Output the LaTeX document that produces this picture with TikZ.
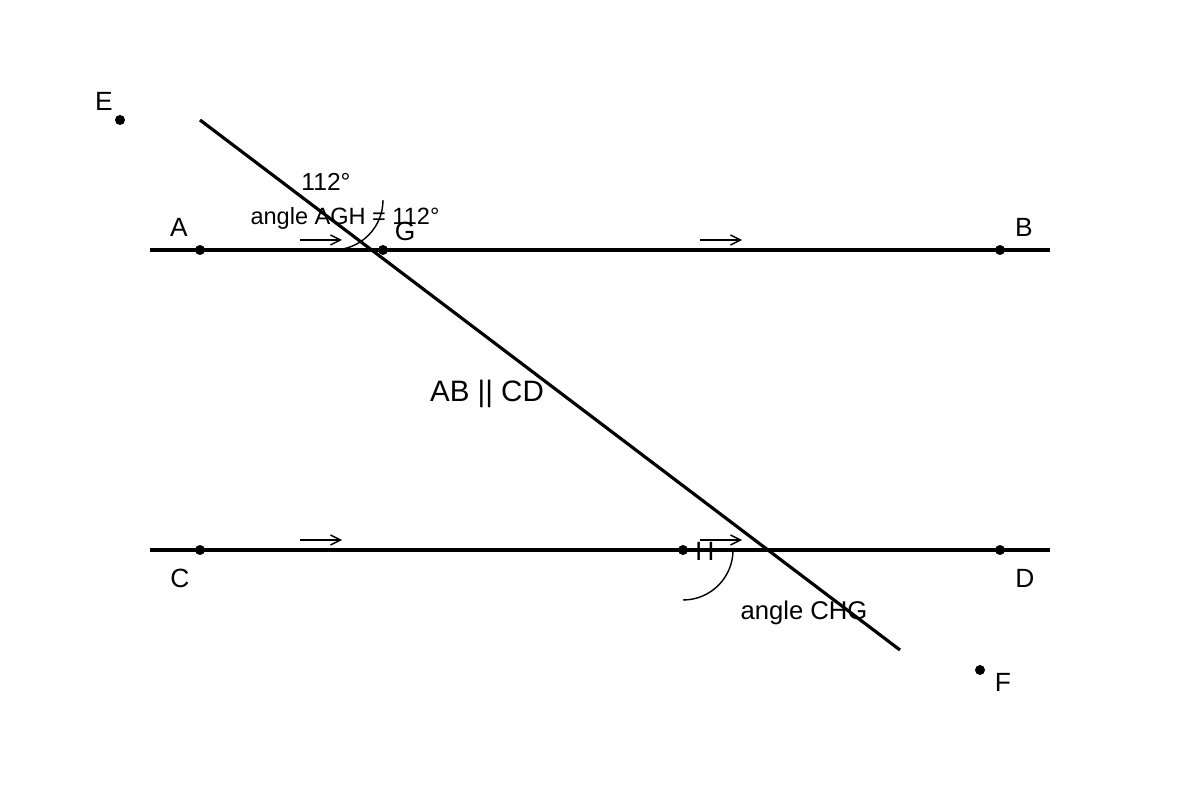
\documentclass[tikz,border=0pt]{standalone}
\usepackage{fontspec}
\setmainfont{Liberation Sans}
\usetikzlibrary{arrows.meta}
\begin{document}
\begin{tikzpicture}[x=0.02cm, y=-0.02cm,
    pt/.style={circle, fill, inner sep=0pt, minimum size=0.2cm},
    lbl/.style={anchor=base, inner sep=0pt, font=\fontsize{15}{18}\selectfont},
    ln/.style={line width=1.8pt},
    dirarrow/.style={-{Straight Barb[length=0.2cm, width=0.2cm]}, line width=0.8pt},
    anglearc/.style={line width=0.8pt}]
    \useasboundingbox (0,0) rectangle (1200,800);
    % the two parallel lines and the transversal
    \coordinate (AB1) at (150,250);
    \coordinate (AB2) at (1050,250);
    \coordinate (CD1) at (150,550);
    \coordinate (CD2) at (1050,550);
    \coordinate (T1) at (200,120);
    \coordinate (T2) at (900,650);
    \draw[ln] (AB1) -- (AB2);
    \draw[ln] (CD1) -- (CD2);
    \draw[ln] (T1) -- (T2);
    % points
    \node[pt] (A) at (200,250) {};
    \node[pt] (G) at (383,250) {};
    \node[pt] (B) at (1000,250) {};
    \node[pt] (C) at (200,550) {};
    \node[pt] (H) at (683,550) {};
    \node[pt] (D) at (1000,550) {};
    \node[pt] (E) at (120,120) {};
    \node[pt] (F) at (980,670) {};
    % point labels
    \node[lbl] (lE) at (104,111) {E};
    \node[lbl] (lA) at (179,237) {A};
    \node[lbl] (lG) at (405,241) {G};
    \node[lbl] (lB) at (1024,237) {B};
    \node[lbl] (lC) at (180,587) {C};
    \node[lbl] (lD) at (1025,587) {D};
    \node[lbl] (lH) at (705,560) {H};
    \node[lbl] (lF) at (1003,691) {F};
    % direction arrows
    \coordinate (a1) at (300,240); \coordinate (a2) at (342,240);
    \coordinate (b1) at (700,240); \coordinate (b2) at (742,240);
    \coordinate (c1) at (300,540); \coordinate (c2) at (342,540);
    \coordinate (d1) at (700,540); \coordinate (d2) at (742,540);
    \draw[dirarrow] (a1) -- (a2);
    \draw[dirarrow] (b1) -- (b2);
    \draw[dirarrow] (c1) -- (c2);
    \draw[dirarrow] (d1) -- (d2);
    % angle arcs
    \coordinate (gArc) at (383,200);
    \coordinate (hArc) at (733,550);
    \draw[anglearc] (gArc) arc[start angle=0, end angle=-90, radius=1cm];
    \draw[anglearc] (hArc) arc[start angle=0, end angle=-90, radius=1cm];
    % texts
    \node[lbl, font=\fontsize{14}{17}\selectfont] (deg) at (326,191) {112°};
    \node[lbl, font=\fontsize{13.4}{16}\selectfont] (agh) at (345,225) {angle AGH = 112°};
    \node[lbl, font=\fontsize{16.8}{20}\selectfont] (par) at (487,401) {AB || CD};
    \node[lbl, font=\fontsize{14.6}{17}\selectfont] (chg) at (804,619) {angle CHG};
\end{tikzpicture}
\end{document}
